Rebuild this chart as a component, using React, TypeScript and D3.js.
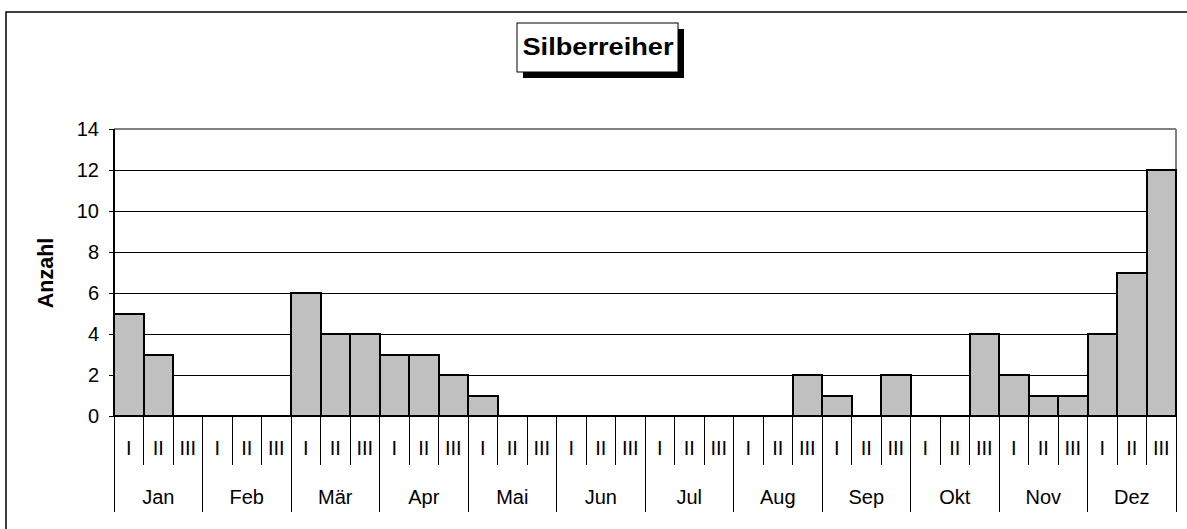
import React from "react";
import * as d3 from "d3";

const months = ["Jan", "Feb", "Mär", "Apr", "Mai", "Jun", "Jul", "Aug", "Sep", "Okt", "Nov", "Dez"];
const decades = ["I", "II", "III"];
const values = [
  5, 3, 0,
  0, 0, 0,
  6, 4, 4,
  3, 3, 2,
  1, 0, 0,
  0, 0, 0,
  0, 0, 0,
  0, 0, 2,
  1, 0, 2,
  0, 0, 4,
  2, 1, 1,
  4, 7, 12,
];
const yTicks = [0, 2, 4, 6, 8, 10, 12, 14];
const title = "Silberreiher";
const yLabel = "Anzahl";

const W = 1187;
const H = 529;
const FONT = "'Liberation Sans', Arial, sans-serif";

export default function App() {
  const left = 114, right = 1176, top = 129, bottom = 416;
  const keys = values.map((_, i) => String(i));
  const x = d3.scaleBand<string>().domain(keys).range([left, right]).padding(0);
  const y = d3.scaleLinear().domain([0, 14]).range([bottom, top]);
  const bw = x.bandwidth();

  return (
    <svg width={W} height={H} style={{ position: "absolute", left: 0, top: 0, background: "#fff" }}>
      <rect x={0} y={0} width={W} height={H} fill="#fff" />
      {/* outer border */}
      <rect x={6} y={12} width={1300} height={600} fill="none" stroke="#000" strokeWidth={1.5} />

      {/* title */}
      <rect x={523} y={29} width={161} height={49} fill="#000" />
      <rect x={517} y={23} width={161} height={49} fill="#fff" stroke="#000" strokeWidth={1} />
      <text x={598} y={46.5} textAnchor="middle" dominantBaseline="central" fontFamily={FONT} fontWeight="bold" fontSize={24} textLength={151} lengthAdjust="spacingAndGlyphs">
        {title}
      </text>

      <g shapeRendering="crispEdges">
        {/* gridlines */}
        {yTicks.filter((t) => t > 0 && t < 14).map((t) => (
          <line key={t} x1={left} x2={right} y1={y(t)} y2={y(t)} stroke="#000" strokeWidth={1} />
        ))}
        <line x1={left} x2={right} y1={y(14)} y2={y(14)} stroke="#808080" strokeWidth={2} />
        <line x1={right} x2={right} y1={y(14)} y2={bottom} stroke="#808080" strokeWidth={2} />

        {/* bars */}
        {values.map((v, i) =>
          v > 0 ? (
            <rect key={i} x={x(String(i))!} y={y(v)} width={bw} height={bottom - y(v)} fill="#c0c0c0" stroke="#000" strokeWidth={2} />
          ) : null
        )}

        {/* y axis */}
        <line x1={left} x2={left} y1={top} y2={bottom} stroke="#000" strokeWidth={2} />
        {yTicks.map((t) => (
          <line key={t} x1={left - 5} x2={left} y1={y(t)} y2={y(t)} stroke="#000" strokeWidth={1} />
        ))}

        {/* x axis */}
        <line x1={left} x2={right} y1={bottom} y2={bottom} stroke="#000" strokeWidth={2} />
        {values.map((_, i) => {
          const xb = x(String(i))!;
          const major = i % 3 === 0;
          return <line key={i} x1={xb} x2={xb} y1={bottom} y2={major ? 512 : 465} stroke="#000" strokeWidth={1} />;
        })}
        <line x1={right} x2={right} y1={bottom} y2={512} stroke="#000" strokeWidth={1} />
      </g>

      {yTicks.map((t) => (
        <text key={t} x={99} y={y(t)} textAnchor="end" dominantBaseline="central" fontFamily={FONT} fontSize={20}>
          {t}
        </text>
      ))}
      <text
        transform={`translate(46,273) rotate(-90)`}
        textAnchor="middle"
        dominantBaseline="central"
        fontFamily={FONT}
        fontWeight="bold"
        fontSize={21.5}
      >
        {yLabel}
      </text>

      {values.map((_, i) => (
        <text key={i} x={x(String(i))! + bw / 2} y={448} textAnchor="middle" dominantBaseline="central" fontFamily={FONT} fontSize={20}>
          {decades[i % 3]}
        </text>
      ))}
      {months.map((m, mi) => {
        const x0 = x(String(mi * 3))!;
        return (
          <text key={m} x={x0 + (bw * 3) / 2} y={497} textAnchor="middle" dominantBaseline="central" fontFamily={FONT} fontSize={20}>
            {m}
          </text>
        );
      })}
    </svg>
  );
}
